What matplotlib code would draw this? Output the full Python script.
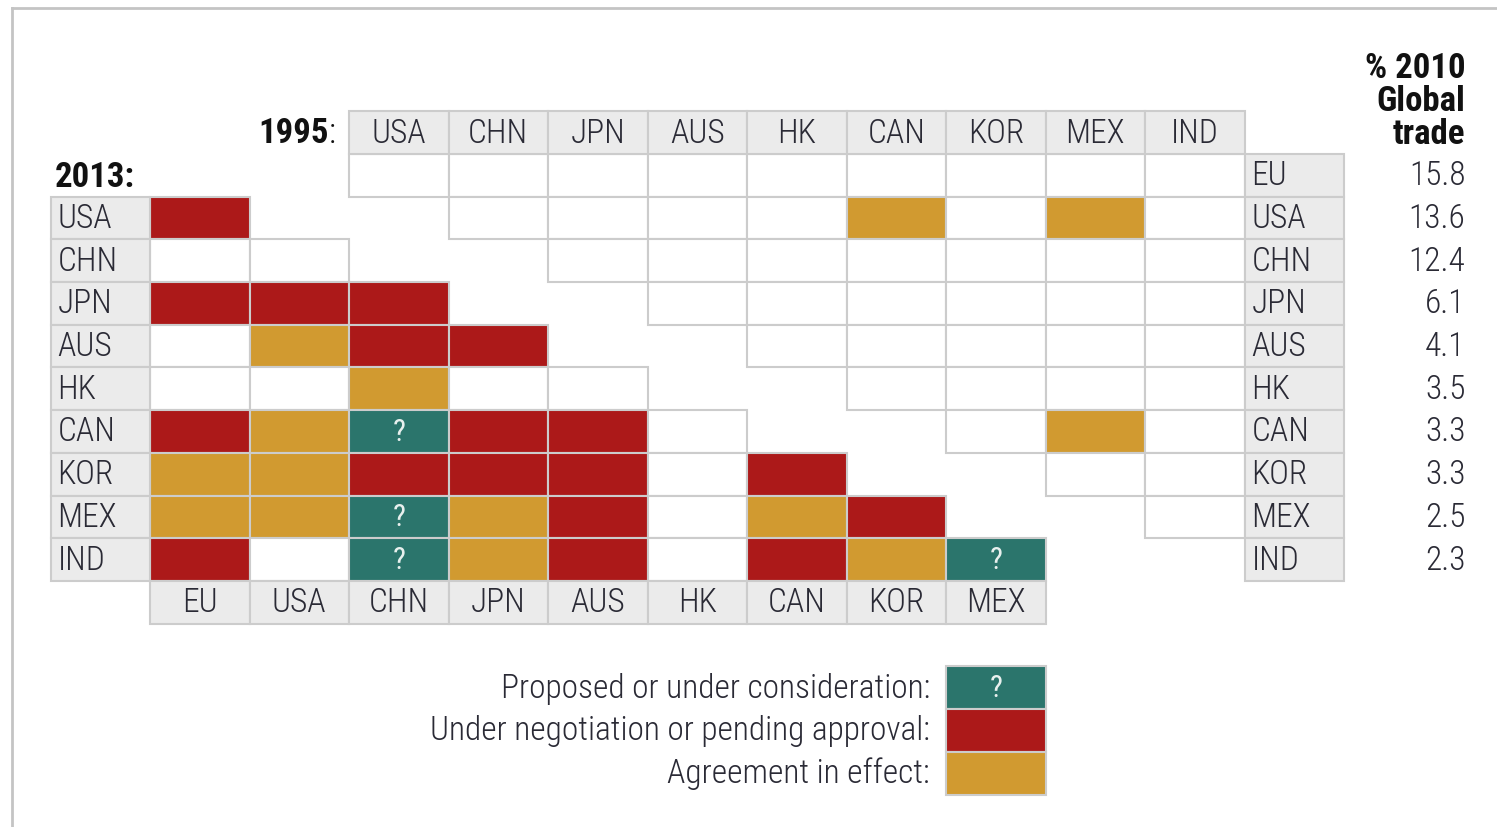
import matplotlib
matplotlib.use('Agg')
import matplotlib.pyplot as plt
from matplotlib.patches import Rectangle

plt.rcParams['font.family'] = ['Roboto Condensed', 'Roboto', 'DejaVu Sans']

countries = ['EU', 'USA', 'CHN', 'JPN', 'AUS', 'HK', 'CAN', 'KOR', 'MEX', 'IND']
trade_share = ['15.8', '13.6', '12.4', '6.1', '4.1', '3.5', '3.3', '3.3', '2.5', '2.3']

# 0 = none, 1 = in effect, 2 = negotiating, 3 = proposed
# 2013: row country vs. every country before it in the list
status_2013 = {
    'USA': [2],
    'CHN': [0, 0],
    'JPN': [2, 2, 2],
    'AUS': [0, 1, 2, 2],
    'HK':  [0, 0, 1, 0, 0],
    'CAN': [2, 1, 3, 2, 2, 0],
    'KOR': [1, 1, 2, 2, 2, 0, 2],
    'MEX': [1, 1, 3, 1, 2, 0, 1, 2],
    'IND': [2, 0, 3, 1, 2, 0, 2, 1, 3],
}
# 1995: row country vs. every country after it in the list
status_1995 = {
    'EU':  [0, 0, 0, 0, 0, 0, 0, 0, 0],
    'USA': [0, 0, 0, 0, 1, 0, 1, 0],
    'CHN': [0, 0, 0, 0, 0, 0, 0],
    'JPN': [0, 0, 0, 0, 0, 0],
    'AUS': [0, 0, 0, 0, 0],
    'HK':  [0, 0, 0, 0],
    'CAN': [0, 1, 0],
    'KOR': [0, 0],
    'MEX': [0],
}
legend_labels = ['Proposed or under consideration:',
                 'Under negotiation or pending approval:',
                 'Agreement in effect:']
legend_codes = [3, 2, 1]

colors = {0: 'white', 1: '#d19a30', 2: '#ac1919', 3: '#2b756c'}
head_fill = '#ebebeb'
edge = '#cccccc'
txt = '#2a2a35'
fs = 24
fs_bold = 25
light = 'light'

fig = plt.figure(figsize=(14.97, 8.27), dpi=100)
ax = fig.add_axes([0, 0, 1, 1])
# grid units: one cell = one unit
cw, ch = 99.5, 42.7
ax.set_xlim(-150 / cw, (1497 - 150) / cw)
ax.set_ylim((827 - 154) / ch, -154 / ch)
ax.axis('off')


def cell(col, row, code=0, fill=None):
    ax.add_patch(Rectangle((col, row), 1, 1, facecolor=fill or colors[code],
                           edgecolor=edge, linewidth=1.5, zorder=2))
    if code == 3:
        ax.text(col + 0.5, row + 0.52, '?', ha='center', va='center',
                color='#e8f0ee', fontsize=22, zorder=3)


def label(col, row, name, centered=False):
    cell(col, row, fill=head_fill)
    if centered:
        ax.text(col + 0.5, row + 0.52, name, ha='center', va='center',
                fontsize=fs, fontweight=light, color=txt, zorder=3)
    else:
        ax.text(col + 0.07, row + 0.52, name, ha='left', va='center',
                fontsize=fs, fontweight=light, color=txt, zorder=3)


# 2013 triangle (lower left)
for p, name in enumerate(countries):
    for q, code in enumerate(status_2013.get(name, [])):
        cell(q, p, code)
# 1995 triangle (upper right)
for p, name in enumerate(countries):
    for k, code in enumerate(status_1995.get(name, [])):
        q = p + 1 + k
        cell(q + 1, p, code)

# headers
for p, name in enumerate(countries[1:], start=1):
    label(-1, p, name)
for q, name in enumerate(countries[:-1]):
    label(q, 10, name, centered=True)
for q, name in enumerate(countries[1:], start=1):
    label(q + 1, -1, name, centered=True)
for p, name in enumerate(countries):
    label(11, p, name)
    ax.text(13.22, p + 0.52, trade_share[p], ha='right', va='center',
            fontsize=fs, fontweight=light, color=txt)

ax.text(1.8, -0.48, '1995', ha='right', va='center', fontsize=fs_bold,
        fontweight='bold', color='#111111')
ax.text(1.8, -0.48, ':', ha='left', va='center', fontsize=fs_bold,
        fontweight=light, color='#111111')
ax.text(-0.96, 0.54, '2013:', ha='left', va='center', fontsize=fs_bold,
        fontweight='bold', color='#111111')
ax.text(13.22, -1.22, '% 2010\nGlobal\ntrade', ha='right', va='center',
        fontsize=fs_bold, fontweight='bold', color='#111111', linespacing=1.0)

# legend
for i, (lab, code) in enumerate(zip(legend_labels, legend_codes)):
    cell(8, 12 + i, code)
    ax.text(7.84, 12.52 + i, lab, ha='right', va='center', fontsize=fs,
            fontweight=light, color=txt)

# frame lines
ax.plot([(12 - 150) / cw, 1497 / cw], [(8 - 154) / ch] * 2,
        color='#c4c4c4', lw=2, clip_on=False)
ax.plot([(12 - 150) / cw] * 2, [(8 - 154) / ch, (827 - 154) / ch],
        color='#c4c4c4', lw=2, clip_on=False)

fig.savefig('out.png', dpi=100)
